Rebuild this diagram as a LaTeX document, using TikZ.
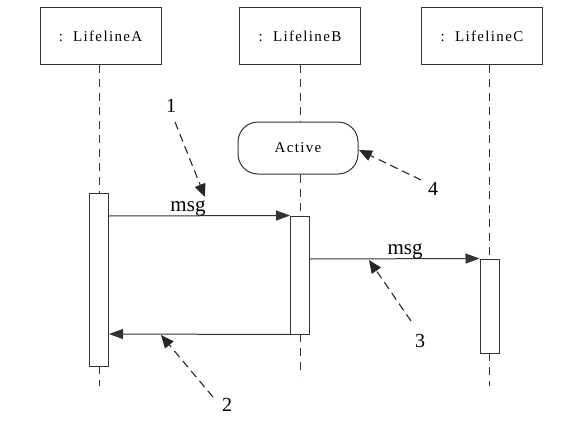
\documentclass[tikz,border=0pt]{standalone}
\usepackage{fontspec}
\setmainfont{Liberation Serif}
\newfontfamily\spacedfont[LetterSpace=9]{Liberation Serif}
\usetikzlibrary{arrows.meta}
\begin{document}
\begin{tikzpicture}[x=1pt,y=-1pt,
  ln/.style={draw=black!80,line width=1pt},
  objbox/.style={ln,fill=white,minimum width=121pt,minimum height=57pt,inner sep=0pt,font=\spacedfont\fontsize{15}{17}\selectfont},
  life/.style={draw=black!80,line width=1pt,dash pattern=on 8pt off 6pt},
  actbar/.style={ln,fill=white},
  msgarrow/.style={ln,-{Triangle[length=14pt,width=10pt]}},
  callout/.style={draw=black!85,line width=1.1pt,dash pattern=on 8pt off 5pt,-{Triangle[length=13pt,width=11pt]}},
  num/.style={font=\fontsize{20}{22}\selectfont,inner sep=1pt},
  lbl/.style={font=\fontsize{21}{23}\selectfont,inner sep=0pt,anchor=base}]
\useasboundingbox (0,0) rectangle (568,431);
% lifeline heads
\node[objbox] (hA) at (100.5,36) {:\ \ LifelineA};
\node[objbox] (hB) at (300,36) {:\ \ LifelineB};
\node[objbox] (hC) at (482,36) {:\ \ LifelineC};
% state
\node[ln,rounded corners=20pt,minimum width=120pt,minimum height=52pt,inner sep=0pt,font=\spacedfont\fontsize{15}{17}\selectfont,fill=white] (act) at (298,148) {Active};
% coordinates
\coordinate (aTop) at (99,193);
\coordinate (aBot) at (99,366);
\coordinate (aEnd) at (99,386);
\coordinate (bTop) at (300,216);
\coordinate (bBot) at (300,334);
\coordinate (bEnd) at (300,376);
\coordinate (cTop) at (489,259);
\coordinate (cBot) at (489,353);
\coordinate (cEnd) at (489,386);
% lifelines
\draw[life] (hA.south -| aTop) -- (aTop);
\draw[life] (aBot) -- (aEnd);
\draw[life] (hB.south -| bTop) -- (act.north -| bTop);
\draw[life] (act.south -| bTop) -- (bTop);
\draw[life] (bBot) -- (bEnd);
\draw[life] (hC.south -| cTop) -- (cTop);
\draw[life] (cBot) -- (cEnd);
% activation bars
\node[actbar,minimum width=19pt,minimum height=173pt,inner sep=0pt] (barA) at (99,279.5) {};
\node[actbar,minimum width=19pt,minimum height=118pt,inner sep=0pt] (barB) at (300,275) {};
\node[actbar,minimum width=19pt,minimum height=94pt,inner sep=0pt] (barC) at (489.5,306) {};
% messages
\draw[msgarrow] (barA.east |- bTop) -- (barB.north west);
\draw[msgarrow] (barB.east |- cTop) -- (barC.north west);
\draw[msgarrow] (barB.south west) -- (barA.east |- bBot);
\node[lbl] (m1) at (188,211) {msg};
\node[lbl] (m2) at (405,254) {msg};
% callouts
\node[num] (n1) at (171,106) {1};
\node[num] (n2) at (227,405) {2};
\node[num] (n3) at (420,341) {3};
\node[num] (n4) at (433,189) {4};
\coordinate (t1) at (205,197);
\coordinate (t2) at (161,335);
\coordinate (t3) at (369,260);
\coordinate (t4) at (359,150);
\draw[callout] (175,122) -- (t1);
\draw[callout] (213,397) -- (t2);
\draw[callout] (411,321) -- (t3);
\draw[callout] (421,180) -- (t4);
\end{tikzpicture}
\end{document}
